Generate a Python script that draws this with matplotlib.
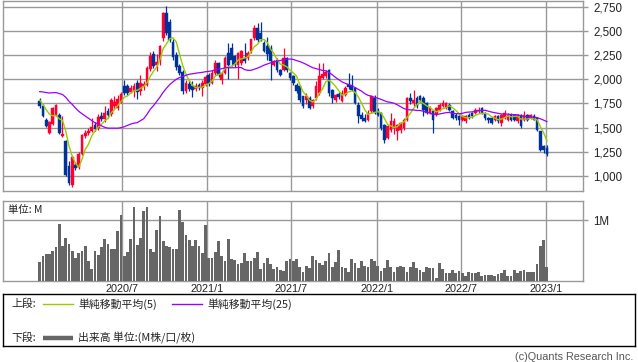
import matplotlib
matplotlib.use("Agg")
import matplotlib.pyplot as plt
import numpy as np
import pandas as pd

# ---------------- data (weekly OHLC, price in yen; volume in millions) ----------------
start_week = "2020-01-06"
opens = [1771,1726,1582,1444,1540,1633,1633,1413,1358,1100,
         910,1117,1090,1230,1410,1440,1470,1530,1500,1620,
         1590,1670,1640,1720,1700,1770,1930,1930,1870,1880,
         1960,1880,1930,1940,2110,2260,2150,2184,2425,2690,
         2595,2380,2250,2140,2080,1880,1950,1930,1900,1940,
         1910,1950,2040,1960,2064,2167,1995,2064,2270,2322,
         2236,2150,2167,2218,2220,2287,2424,2528,2477,2379,
         2345,2328,2150,2201,2098,2098,2218,2064,2029,1943,
         1926,1823,1788,1806,1720,1806,1857,2010,2030,2098,
         1891,1788,1850,1771,1840,1950,1940,1909,1737,1630,
         1600,1582,1668,1806,1668,1651,1530,1393,1478,1496,
         1461,1478,1496,1582,1806,1754,1806,1823,1806,1754,
         1651,1668,1633,1685,1719,1702,1737,1668,1633,1616,
         1582,1564,1633,1651,1651,1668,1702,1651,1599,1599,
         1582,1616,1547,1599,1582,1633,1633,1564,1633,1582,
         1633,1599,1625,1599,1461,1307,1289]
closes = [1719,1616,1520,1554,1702,1737,1444,1437,1013,927,
          1200,1083,1230,1420,1440,1470,1510,1490,1610,1590,
          1650,1630,1790,1770,1800,1850,1860,1860,1910,1930,
          1870,1960,1950,2120,2240,2140,2180,2340,2690,2480,
          2405,2230,2130,2060,1880,1960,1900,1890,1930,1910,
          1960,2020,1950,2064,2167,2047,2064,2218,2150,2201,
          2150,2270,2287,2184,2270,2414,2528,2408,2414,2293,
          2259,2190,2184,2098,2047,2218,2098,2010,1960,1877,
          1788,1719,1823,1702,1790,1926,2029,2050,2080,1857,
          1806,1840,1820,1857,1909,1920,1890,1754,1616,1590,
          1570,1651,1823,1651,1633,1500,1375,1513,1564,1564,
          1530,1547,1582,1806,1771,1788,1719,1788,1685,1651,
          1702,1582,1702,1737,1754,1754,1685,1599,1599,1582,
          1616,1616,1599,1616,1685,1685,1651,1599,1582,1547,
          1616,1564,1633,1651,1633,1582,1582,1633,1513,1633,
          1582,1633,1582,1478,1272,1272,1230]
highs = [1806,1745,1600,1570,1715,1745,1651,1616,1375,1151,
         1215,1140,1250,1435,1480,1500,1600,1560,1640,1660,
         1720,1700,1810,1830,1840,1870,1990,1950,1940,1960,
         1990,2040,1980,2140,2280,2290,2260,2350,2700,2760,
         2620,2420,2280,2160,2100,1990,1990,1980,1960,1960,
         1990,2040,2060,2100,2200,2180,2070,2240,2379,2370,
         2250,2280,2300,2370,2290,2420,2563,2580,2597,2400,
         2440,2350,2200,2220,2110,2322,2230,2080,2040,1960,
         1940,1830,1860,1830,1800,1977,2167,2170,2100,2110,
         1900,1850,1870,1890,1930,2060,2040,1920,1760,1660,
         1640,1680,1830,1840,1700,1660,1540,1530,1651,1600,
         1540,1560,1600,1820,1857,1891,1830,1840,1823,1770,
         1720,1680,1710,1750,1788,1770,1750,1680,1650,1630,
         1630,1630,1650,1660,1700,1710,1715,1660,1610,1610,
         1630,1630,1640,1685,1650,1650,1645,1640,1640,1668,
         1640,1640,1640,1610,1470,1320,1320]
lows = [1705,1605,1505,1430,1530,1620,1430,1400,1005,905,
        890,1060,1070,1215,1390,1420,1455,1470,1480,1570,
        1560,1600,1620,1700,1680,1750,1840,1840,1860,1820,
        1800,1840,1890,1930,2090,2120,2090,2150,2400,2460,
        2380,2200,2100,2040,1850,1860,1880,1820,1880,1890,
        1830,1930,1930,1950,2040,2020,1950,2050,2002,2133,
        2130,2002,2150,2170,2200,2270,2410,2390,2400,2280,
        2200,1994,2140,2080,2030,2090,2080,1990,1940,1860,
        1770,1700,1740,1690,1700,1790,1840,2000,2010,1830,
        1754,1760,1800,1760,1830,1900,1880,1740,1550,1570,
        1555,1570,1650,1640,1620,1480,1341,1380,1450,1430,
        1375,1440,1480,1570,1740,1720,1700,1760,1616,1640,
        1640,1444,1620,1670,1710,1690,1670,1590,1580,1530,
        1570,1550,1590,1600,1640,1650,1640,1580,1547,1540,
        1570,1550,1513,1590,1570,1570,1570,1550,1496,1570,
        1570,1590,1575,1470,1255,1240,1205]
volumes = [0.31,0.41,0.44,0.44,0.49,0.55,0.94,0.57,0.70,0.60,
           0.49,0.37,0.45,0.49,0.57,0.32,0.20,0.49,0.42,0.56,
           0.68,0.61,0.53,0.52,0.82,1.09,0.40,0.47,0.68,1.22,
           0.59,0.71,1.15,1.22,0.53,0.48,0.83,1.07,0.65,0.57,
           0.55,0.53,0.52,1.16,0.97,0.75,0.67,0.57,0.67,0.58,
           0.45,0.92,0.38,0.38,0.48,0.66,0.40,0.32,0.69,0.36,
           0.34,0.28,0.30,0.45,0.32,0.33,0.38,0.47,0.19,0.29,
           0.37,0.28,0.19,0.23,0.17,0.16,0.32,0.36,0.33,0.36,
           0.23,0.15,0.24,0.21,0.40,0.34,0.30,0.26,0.32,0.46,
           0.23,0.31,0.50,0.22,0.21,0.15,0.36,0.30,0.21,0.32,
           0.24,0.23,0.36,0.33,0.24,0.16,0.21,0.34,0.23,0.15,
           0.23,0.24,0.23,0.15,0.22,0.31,0.21,0.18,0.15,0.23,
           0.21,0.21,0.05,0.30,0.20,0.12,0.12,0.18,0.12,0.16,
           0.13,0.08,0.14,0.13,0.13,0.14,0.07,0.10,0.09,0.09,
           0.07,0.11,0.13,0.17,0.08,0.08,0.17,0.12,0.16,0.17,
           0.14,0.14,0.14,0.28,0.57,0.67,0.23]
# closes of the 24 weeks before the first plotted week (feed the moving averages)
prior_closes = [1700,1680,1660,1650,1670,1690,1700,1720,
                1960,2010,2040,2060,2050,2030,2070,2080,2050,2020,2010,2030,
                1830,1800,1780,1790]
price_ticks = [1000,1250,1500,1750,2000,2250,2500,2750]
date_ticks = ["2020-07-01","2021-01-01","2021-07-01","2022-01-01","2022-07-01","2023-01-01"]
date_labels = ["2020/7","2021/1","2021/7","2022/1","2022/7","2023/1"]

# ---------------- styling ----------------
UP = "#ff0033"
DOWN = "#003399"
MA5_C = "#99cc00"
MA25_C = "#9900ff"
VOL_C = "#666666"
GRID = "#999999"
NUM_FONT = "Liberation Sans"
JP_FONT = ["Noto Sans CJK JP", "DejaVu Sans"]

n = len(closes)
dates = pd.date_range(start_week, periods=n, freq="7D")
x = matplotlib.dates.date2num(dates)
o = np.array(opens, float); c = np.array(closes, float)
h = np.array(highs, float); l = np.array(lows, float)
allc = pd.Series(prior_closes + closes, dtype=float)
ma5 = allc.rolling(5).mean().values[len(prior_closes):]
ma25 = allc.rolling(25).mean().values[len(prior_closes):]

W, H = 638, 362
fig = plt.figure(figsize=(W / 100, H / 100), dpi=100)
fig.patch.set_facecolor("white")

def rect(x0, y0, x1, y1):
    return [x0 / W, 1 - y1 / H, (x1 - x0) / W, (y1 - y0) / H]

ax = fig.add_axes(rect(3, 1, 583, 190.5))
axv = fig.add_axes(rect(3, 200.7, 583, 280.7), sharex=ax)

up = c >= o
cols = np.where(up, UP, DOWN)
ax.vlines(x, l, h, colors=cols, linewidth=0.9, zorder=3)
body_h = np.maximum(np.abs(c - o), 4)
ax.bar(x, body_h, bottom=np.minimum(o, c), width=5.6, color=cols,
       edgecolor=cols, linewidth=0.3, zorder=4)
ax.plot(x, ma5, color=MA5_C, linewidth=1.0, zorder=5)
ax.plot(x, ma25, color=MA25_C, linewidth=0.9, zorder=5)

axv.bar(x, volumes, width=5.9, color=VOL_C, linewidth=0, zorder=3)

d0 = x[0]
px_per_day = 3.251 / 7
xl = (d0 - 36.7 / px_per_day, d0 + 543.3 / px_per_day)
ax.set_xlim(*xl)
ax.set_ylim(850, 2809)
axv.set_ylim(0, 1.32)

xt = matplotlib.dates.date2num(pd.to_datetime(date_ticks))
for a in (ax, axv):
    a.set_xticks(xt)
    a.grid(True, axis="x", color=GRID, linewidth=1.0, zorder=0)
    for s in a.spines.values():
        s.set_color(GRID)
        s.set_linewidth(1.0)
    a.set_axisbelow(True)
    a.yaxis.tick_right()

ax.set_yticks(price_ticks)
ax.set_yticklabels([f"{v:,}" for v in price_ticks], fontfamily=NUM_FONT,
                   fontsize=8.3, color="#222222")
ax.grid(True, axis="y", color=GRID, linewidth=1.0, zorder=0)
ax.tick_params(axis="y", length=3.5, width=1.0, color=GRID, pad=4)
ax.tick_params(axis="x", length=0, labelbottom=False)

axv.set_yticks([1.0])
axv.set_yticklabels(["1M"], fontfamily=NUM_FONT, fontsize=8.3, color="#222222")
axv.grid(True, axis="y", color=GRID, linewidth=1.0, zorder=0)
axv.tick_params(axis="y", length=3.5, width=1.0, color=GRID, pad=4)
axv.set_xticklabels(date_labels, fontfamily=NUM_FONT, fontsize=7.8, color="#222222")
axv.tick_params(axis="x", length=0, pad=2.5)
axv.text(8 / W, 1 - 210 / H, "単位: M", transform=fig.transFigure,
         fontfamily=JP_FONT, fontsize=7.5, va="center", ha="left", color="#222222")

# legend box
lg = fig.add_axes(rect(3, 294, 634.7, 346))
lg.set_xlim(3, 634.7)
lg.set_ylim(346, 294)
lg.set_xticks([]); lg.set_yticks([])
for s in lg.spines.values():
    s.set_color("black"); s.set_linewidth(1.0)
tk = dict(fontfamily=JP_FONT, fontsize=7.8, va="center", ha="left", color="#222222")
lg.text(11, 304, "上段:", **tk)
lg.plot([43, 73], [304, 304], color=MA5_C, linewidth=1.0)
lg.text(78, 304, "単純移動平均(5)", **tk)
lg.plot([172, 202], [304, 304], color=MA25_C, linewidth=1.0)
lg.text(207, 304, "単純移動平均(25)", **tk)
lg.text(11, 338, "下段:", **tk)
lg.plot([43, 73], [338, 338], color=VOL_C, linewidth=3.2, solid_capstyle="butt")
lg.text(78, 338, "出来高 単位:(M株/口/枚)", **tk)

fig.text(633 / W, 1 - 356.5 / H, "(c)Quants Research Inc.", ha="right", va="center",
         fontfamily=NUM_FONT, fontsize=7.8, color="#555555")

fig.savefig("out.png", dpi=100)
